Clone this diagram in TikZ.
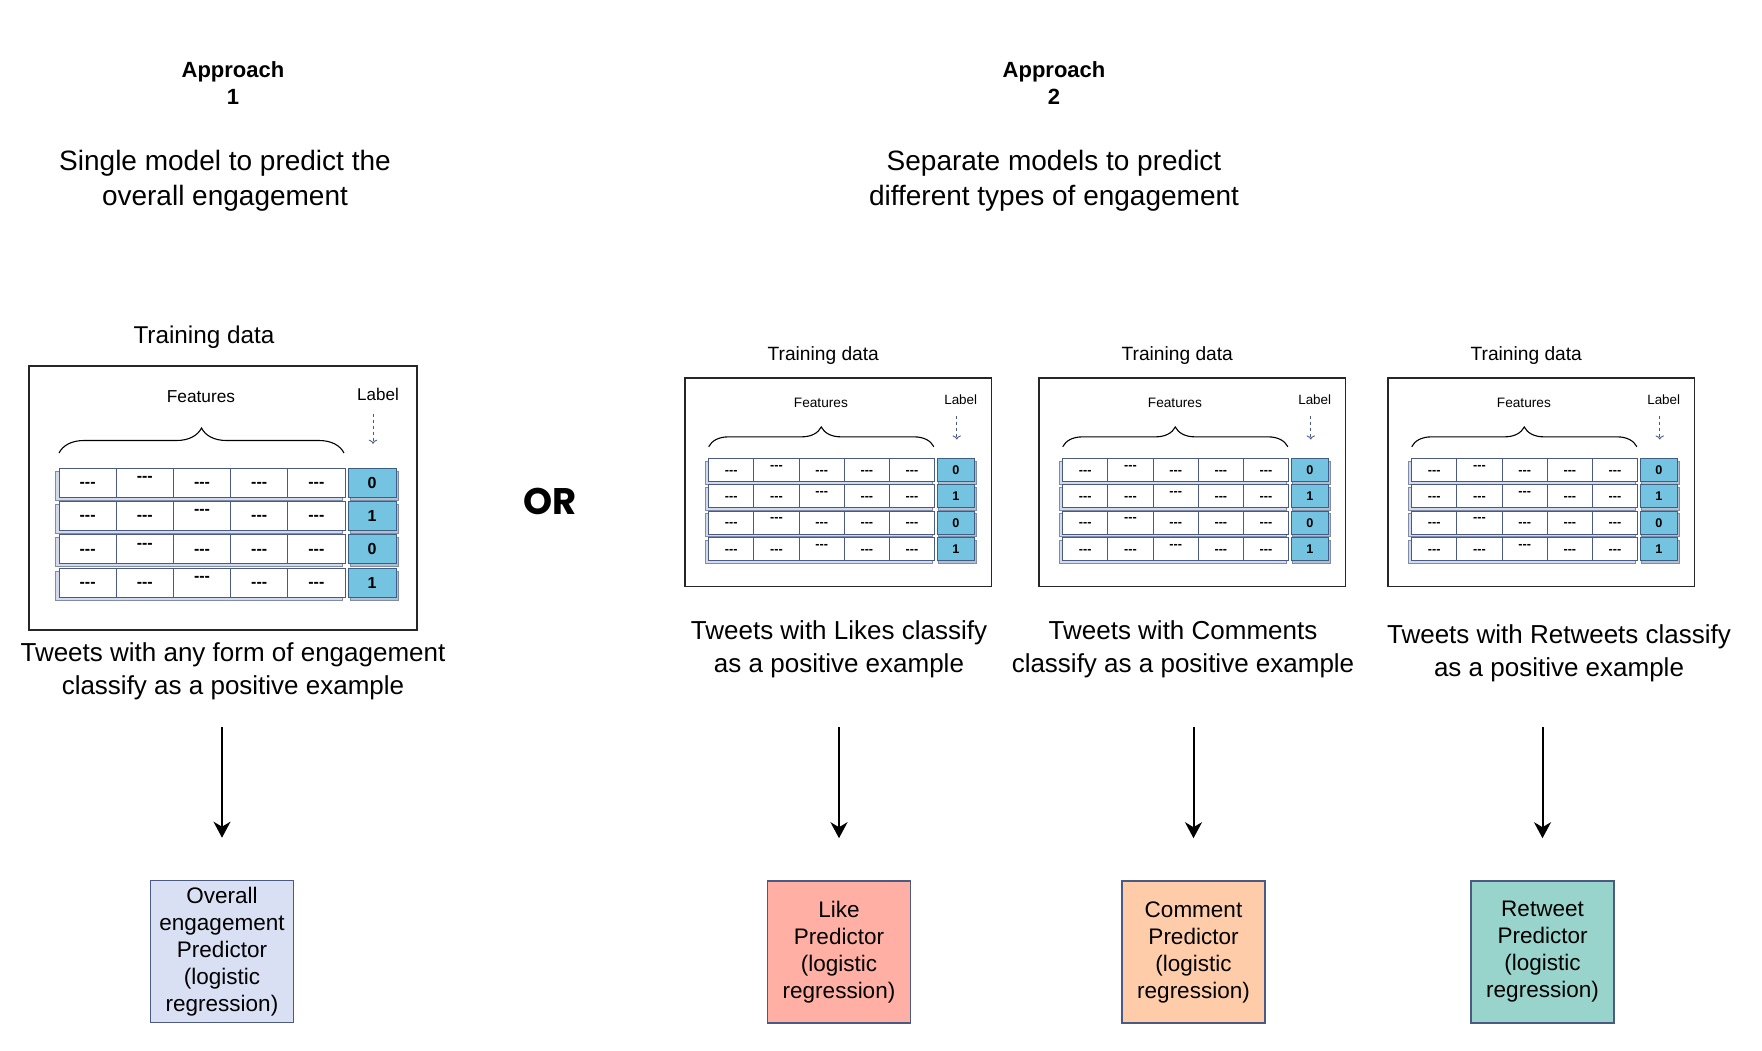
\documentclass[tikz,border=0pt]{standalone}
\usepackage{fontspec}
\setmainfont{Liberation Sans}
\newfontfamily\orfont{Poppins}
\usetikzlibrary{decorations.pathreplacing,arrows.meta}
\definecolor{edge}{HTML}{4A5A85}
\definecolor{face}{HTML}{D3DAEC}
\definecolor{lblue}{HTML}{74C3E0}
\definecolor{lbedge}{HTML}{3E5F85}
\definecolor{overall}{HTML}{D9E0F4}
\definecolor{like}{HTML}{FFAFA3}
\definecolor{comment}{HTML}{FFCCAA}
\definecolor{retweet}{HTML}{98D4CC}
\tikzset{
 heading/.style={align=center, font=\fontsize{22}{27}\selectfont\bfseries},
 title/.style={align=center, font=\fontsize{28}{35}\selectfont},
 caption/.style={align=center, font=\fontsize{26}{33}\selectfont},
 pred/.style={draw=edge, line width=1.6pt, align=center, minimum width=143, minimum height=142, inner sep=0pt, font=\fontsize{22.5}{27}\selectfont},
 arr/.style={-{Stealth[length=16pt,width=17pt,inset=5pt]}, line width=2pt},
 cellbox/.style={draw=edge, line width=0.9pt, fill=white},
 backbox/.style={draw=edge!70, line width=0.7pt, fill=face},
 lbox/.style={draw=lbedge, line width=1pt, fill=lblue, inner sep=0pt, minimum width=48, minimum height=29, font=\fontsize{16}{18}\selectfont\bfseries},
 dashtxt/.style={inner sep=0pt, font=\fontsize{16}{18}\selectfont\bfseries},
}
\newcommand\tblock[4]{%
\pgfmathsetmacro\bramp{25*#4}%
\begin{scope}[shift={(#2,#3)}, scale=#4, every node/.append style={transform shape}]
 \node[font=\fontsize{24.3}{28}\selectfont] (#1title) at (175,-29) {Training data};
 \draw[line width=1.5pt, draw=black!85] (0,0) rectangle (388,264);
 \node[font=\fontsize{17.3}{20}\selectfont] (#1feat) at (172,31) {Features};
 \node[font=\fontsize{17}{20}\selectfont] (#1lab) at (349,28) {Label};
 \draw[dashed, draw=edge, line width=0.9pt, -{To[length=4pt]}] (#1lab.south) ++(-5,10) -- ++(0,30);
 \draw[decorate, decoration={brace, amplitude=\bramp pt}, line width=1.1pt] (30,87) -- (315,87);
 \foreach \ri/\ty/\rc/\vv in {0/102/1/0,1/135.3/2/1,2/168.6/1/0,3/202/2/1} {
   \draw[backbox] (26,\ty+3) rectangle (313,\ty+32);
   \foreach \kk in {0,...,4} {
     \draw[cellbox] ({30+57.2*\kk},\ty) rectangle ({30+57.2*(\kk+1)},\ty+29);
     \pgfmathsetmacro\dy{\kk==\rc ? 11 : 17}
     \node[dashtxt] (#1d\ri-\kk) at ({30+57.2*\kk+28.6},\ty+\dy) {-{}-{}-};
   }
   \draw[backbox, fill=lbedge!40] (321,\ty+3) rectangle (369,\ty+32);
   \node[lbox] (#1v\ri) at (343,\ty+14.5) {\vv};
 }
\end{scope}}
\begin{document}
\begin{tikzpicture}[x=1pt,y=-1pt]
\useasboundingbox (0,0) rectangle (1762,1050);
\node[heading] (ap1) at (233,83.5) {Approach\\1};
\node[heading] (ap2) at (1054,83.5) {Approach\\2};
\node[title] (t1) at (225,181) {Single model to predict the\\overall engagement};
\node[title] (t2) at (1054,181) {Separate models to predict\\different types of engagement};

\tblock{L}{29}{366}{1}
\tblock{A}{685}{378}{0.79}
\tblock{B}{1039}{378}{0.79}
\tblock{C}{1388}{378}{0.79}

\node[font=\orfont\bfseries\fontsize{37}{40}\selectfont] (or) at (550,501) {OR};

\node[caption] (c1) at (233,671) {Tweets with any form of engagement\\classify as a positive example};
\node[caption] (c2) at (839,649) {Tweets with Likes classify\\as a positive example};
\node[caption] (c3) at (1183,649) {Tweets with Comments\\classify as a positive example};
\node[caption] (c4) at (1559,653) {Tweets with Retweets classify\\as a positive example};

\node[pred, fill=overall] (p1) at (222,951.5) {Overall\\engagement\\Predictor\\(logistic\\regression)};
\node[pred, fill=like] (p2) at (839,952) {Like\\Predictor\\(logistic\\regression)};
\node[pred, fill=comment] (p3) at (1193.5,952) {Comment\\Predictor\\(logistic\\regression)};
\node[pred, fill=retweet] (p4) at (1542.5,952) {Retweet\\Predictor\\(logistic\\regression)};

\draw[arr, shorten <=24pt, shorten >=42pt] (c1.south -| p1.north) -- (p1.north);
\draw[arr, shorten <=46pt, shorten >=42pt] (c2.south -| p2.north) -- (p2.north);
\draw[arr, shorten <=46pt, shorten >=42pt] (c3.south -| p3.north) -- (p3.north);
\draw[arr, shorten <=42pt, shorten >=42pt] (c4.south -| p4.north) -- (p4.north);
\end{tikzpicture}
\end{document}
